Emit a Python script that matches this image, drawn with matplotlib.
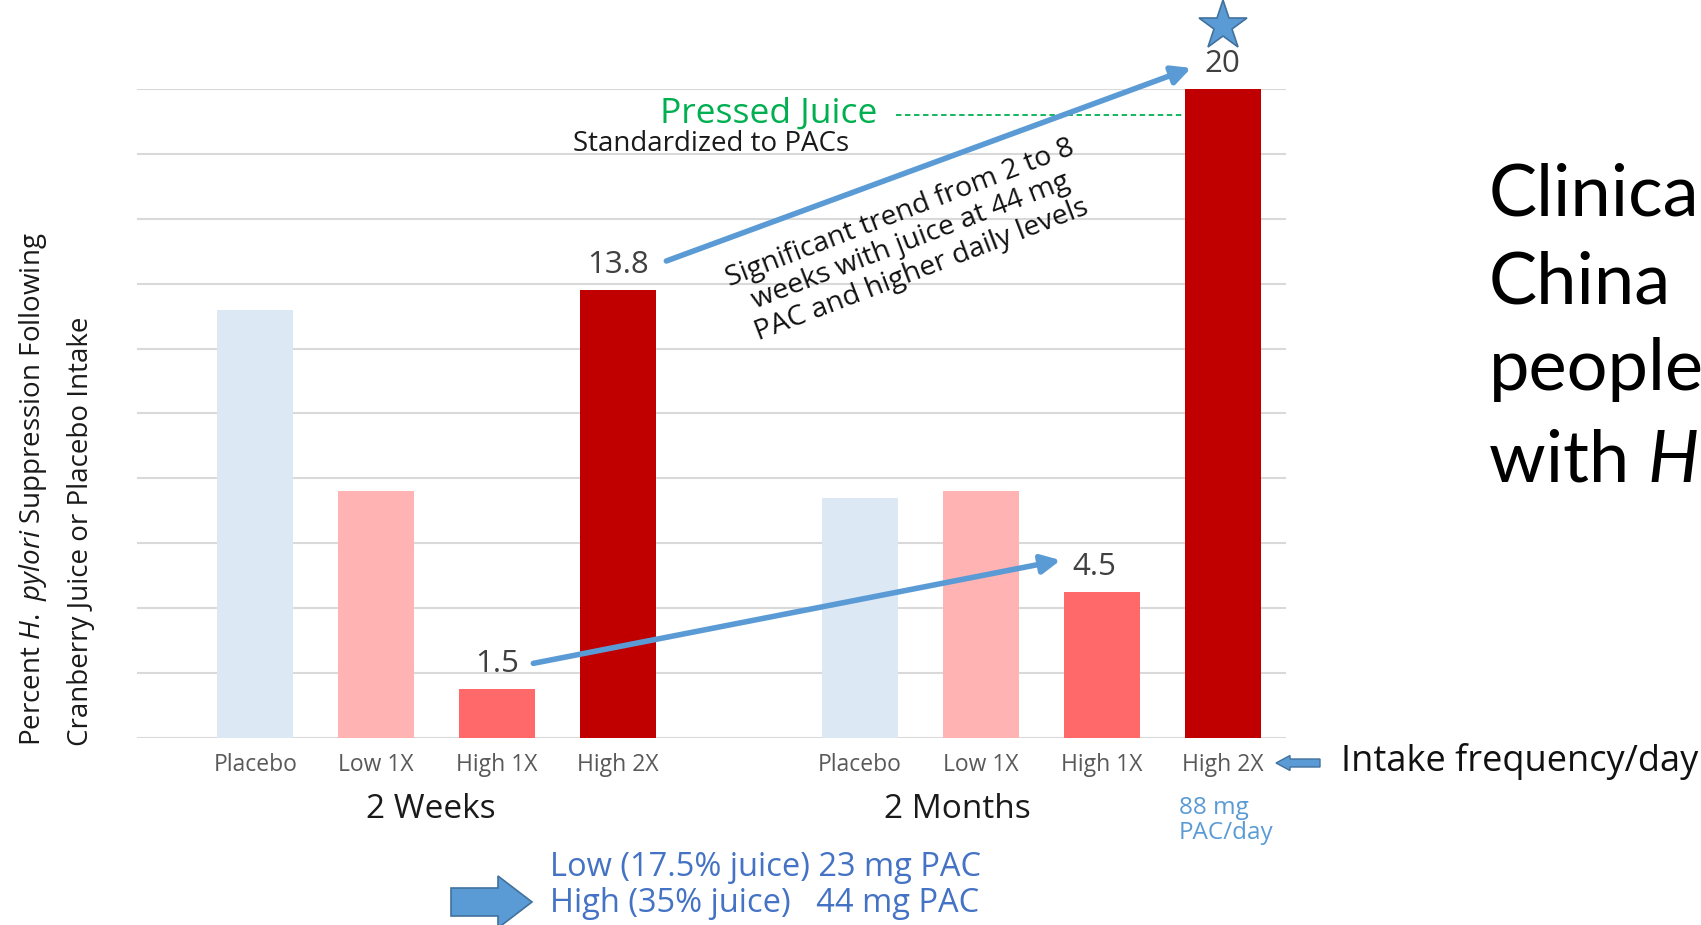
import matplotlib
matplotlib.use('Agg')
import matplotlib.pyplot as plt
from matplotlib.patches import FancyArrow

# ---- data ----
categories = ['Placebo', 'Low 1X', 'High 1X', 'High 2X']
groups = ['2 Weeks', '2 Months']
weeks_values = [13.2, 7.6, 1.5, 13.8]
months_values = [7.4, 7.6, 4.5, 20]
bar_colors = ['#dde8f5', '#ffb3b3', '#ff6969', '#c00000']
labelled = ['High 1X', 'High 2X']   # bars that carry a value label

plt.rcParams['font.family'] = ['Open Sans', 'DejaVu Sans']
plt.rcParams['mathtext.fontset'] = 'custom'
plt.rcParams['mathtext.rm'] = 'Open Sans'
plt.rcParams['mathtext.it'] = 'Open Sans:italic'

W, H = 1701, 925
fig = plt.figure(figsize=(W / 100, H / 100), dpi=100)
ax = fig.add_axes([136.7 / W, 1 - 738 / H, 1148.8 / W, 649 / H])

x_weeks = list(range(len(categories)))
x_months = [x + len(categories) + 1 for x in x_weeks]

ax.bar(x_weeks, weeks_values, width=0.63, color=bar_colors, zorder=2)
ax.bar(x_months, months_values, width=0.63, color=bar_colors, zorder=2)

ax.set_xlim(-0.98, 8.52)
ax.set_ylim(0, 20)
ax.set_yticks(range(0, 21, 2))
ax.yaxis.grid(True, color='#d9d9d9', lw=1.5, zorder=0)
ax.tick_params(axis='y', length=0, labelleft=False)
for s in ax.spines.values():
    s.set_visible(False)
ax.set_xticks(x_weeks + x_months, categories * 2)
ax.tick_params(axis='x', length=0, pad=11, labelsize=16.5, labelcolor='#595959')

# group labels
ax.text(1.45, -2.2, groups[0], ha='center', va='center', fontsize=24, color='#1a1a1a', clip_on=False)
ax.text(5.81, -2.2, groups[1], ha='center', va='center', fontsize=24, color='#1a1a1a', clip_on=False)
ax.text(7.64, -1.8, '88 mg\nPAC/day', ha='left', va='top', fontsize=17.5, color='#5b9bd5',
        linespacing=1.05, clip_on=False)

# value labels
for xs, vals in ((x_weeks, weeks_values), (x_months, months_values)):
    for x, v, c in zip(xs, vals, categories):
        if c in labelled:
            lx = x - 0.06 if v == 4.5 else x
            ax.text(lx, v + 0.77, f'{v:g}', ha='center', va='center', fontsize=22.5,
                    color='#404040', clip_on=False)

# star above the top bar
top_x = x_months[3]
ax.plot(top_x, months_values[3] + 1.95, marker='*', ms=37, color='#5b9bd5',
        mec='#41719c', mew=1.2, clip_on=False)

# trend arrows
arrow_kw = dict(arrowstyle='-|>', color='#5b9bd5', lw=4, mutation_scale=28, shrinkA=0, shrinkB=0)
x0, v0 = x_weeks[3], weeks_values[3]
x1, v1 = x_months[3], months_values[3]
ax.annotate('', xy=(x1 - 0.26, v1 + 0.65), xytext=(x0 + 0.4, v0 + 0.9),
            arrowprops=arrow_kw, annotation_clip=False)
x0, v0 = x_weeks[2], weeks_values[2]
x1, v1 = x_months[2], months_values[2]
ax.annotate('', xy=(x1 - 0.34, v1 + 0.98), xytext=(x0 + 0.3, v0 + 0.8),
            arrowprops=arrow_kw, annotation_clip=False)

ax.text(5.42, 15.3, 'Significant trend from 2 to 8\nweeks with juice at 44 mg\nPAC and higher daily levels',
        rotation=21, rotation_mode='anchor', ha='center', va='center', multialignment='center',
        fontsize=20.5, color='#111111', linespacing=1.12, clip_on=False)

# pressed juice note
ax.text(3.35, 19.25, 'Pressed Juice', ha='left', va='center', fontsize=25.5, color='#00b050', clip_on=False)
ax.plot([5.3, 7.66], [19.2, 19.2], ls=(0, (3, 2)), color='#00b050', lw=1.3, clip_on=False)
ax.text(2.63, 18.3, 'Standardized to PACs', ha='left', va='center', fontsize=20, color='#1a1a1a', clip_on=False)

# y label (two lines, rotated)
fig.text(33 / W, 1 - 746 / H, r'Percent $\it{H.\ pylori}$ Suppression Following', rotation=90,
         ha='center', va='bottom', fontsize=20, color='#1a1a1a')
fig.text(81 / W, 1 - 746 / H, 'Cranberry Juice or Placebo Intake', rotation=90,
         ha='center', va='bottom', fontsize=20, color='#1a1a1a')

# slide text around the chart
fig.text(1341 / W, 1 - 762 / H, 'Intake frequency/day', ha='left', va='center', fontsize=26, color='#111111')
fig.add_artist(FancyArrow(1320 / W, 1 - 763 / H, -44 / W, 0, width=8 / H, head_width=15 / H,
                          head_length=14 / W, length_includes_head=True, fc='#5b9bd5', ec='#41719c',
                          lw=1, transform=fig.transFigure))

fig.add_artist(FancyArrow(451 / W, 1 - 902 / H, 81 / W, 0, width=28 / H, head_width=52 / H,
                          head_length=34 / W, length_includes_head=True, fc='#5b9bd5', ec='#41719c',
                          lw=1.2, transform=fig.transFigure))
fig.text(550 / W, 1 - 868 / H, 'Low (17.5% juice) 23 mg PAC', ha='left', va='center', fontsize=23.5, color='#4472c4')
fig.text(550 / W, 1 - 904 / H, 'High (35% juice)   44 mg PAC', ha='left', va='center', fontsize=23.5, color='#4472c4')

# cut-off slide title on the right
title_lines = ['Clinica', 'China', 'people', 'with ']
title_base = [215, 303, 390, 482]
renderer = fig.canvas.get_renderer()
for t, yb in zip(title_lines, title_base):
    txt = fig.text(1489 / W, 1 - yb / H, t, ha='left', va='baseline', fontsize=52,
                   family=['Lato', 'DejaVu Sans'], color='#000000')
bb = txt.get_window_extent(renderer)
fig.text(bb.x1 / W, 1 - title_base[-1] / H, 'H', ha='left', va='baseline', fontsize=52,
         family=['Lato', 'DejaVu Sans'], style='italic', color='#000000')

fig.savefig('out.png', dpi=100)
